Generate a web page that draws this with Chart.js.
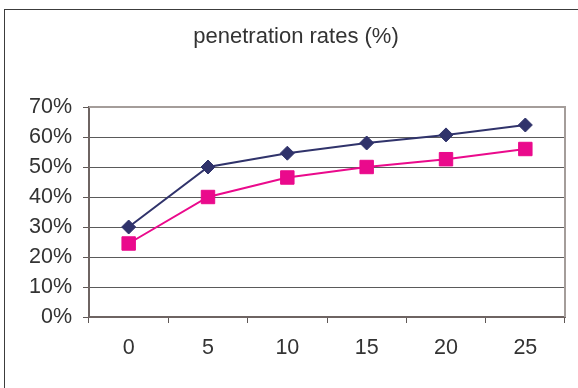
<!DOCTYPE html>
<html>
<head>
<meta charset="utf-8">
<script src="https://cdn.jsdelivr.net/npm/chart.js@4/dist/chart.umd.min.js"></script>
<style>
  html, body { margin: 0; padding: 0; background: #ffffff; overflow: hidden; }
  #wrap { position: relative; width: 578px; height: 388px; overflow: hidden; }
  #c { position: absolute; left: 0; top: 0; }
  #frame {
    position: absolute; left: 4px; top: 9px; width: 640px; height: 420px;
    border: 1px solid #3c3c3c; pointer-events: none; box-sizing: border-box;
  }
</style>
</head>
<body>
<div id="wrap">
  <canvas id="c" width="592" height="388"></canvas>
  <div id="frame"></div>
</div>
<script>
// Years on the horizontal axis
const categories = ['0', '5', '10', '15', '20', '25'];
// Penetration rates, in percent
const seriesNavy = [30, 50, 54.6, 58, 60.7, 64];
const seriesPink = [24.5, 40, 46.5, 50, 52.6, 56];
// Value axis ticks, in percent
const yTicks = [0, 10, 20, 30, 40, 50, 60, 70];

const FONT = "'Liberation Sans', Arial, sans-serif";
const TEXT = '#333333';

// Light frame along the top and right of the plot area
const plotFrame = {
  id: 'plotFrame',
  beforeDatasetsDraw(chart) {
    const a = chart.chartArea;
    const ctx = chart.ctx;
    ctx.save();
    ctx.strokeStyle = '#a49d9a';
    ctx.lineWidth = 2;
    ctx.beginPath();
    ctx.moveTo(a.left, a.top);
    ctx.lineTo(a.right, a.top);
    ctx.lineTo(a.right, a.bottom);
    ctx.stroke();
    ctx.restore();
  }
};

new Chart(document.getElementById('c'), {
  type: 'line',
  data: {
    labels: categories,
    datasets: [
      {
        data: seriesNavy,
        borderColor: '#30336b',
        backgroundColor: '#30336b',
        borderWidth: 2,
        pointStyle: 'rectRot',
        pointRadius: 7,
        pointBorderWidth: 1,
        pointBorderColor: '#30336b',
        pointBackgroundColor: '#30336b',
        tension: 0
      },
      {
        data: seriesPink,
        borderColor: '#ea0a8c',
        backgroundColor: '#ea0a8c',
        borderWidth: 2,
        pointStyle: 'rect',
        pointRadius: 9.5,
        pointBorderWidth: 1,
        pointBorderColor: '#ea0a8c',
        pointBackgroundColor: '#ea0a8c',
        tension: 0
      }
    ]
  },
  options: {
    responsive: false,
    animation: false,
    devicePixelRatio: 1,
    layout: { padding: 0 },
    plugins: {
      legend: { display: false },
      tooltip: { enabled: false },
      title: {
        display: true,
        text: 'penetration rates (%)',
        color: TEXT,
        font: { family: FONT, size: 22, weight: 'normal', lineHeight: 1.2 },
        padding: { top: 24, bottom: 56.6 }
      }
    },
    scales: {
      x: {
        type: 'category',
        offset: true,
        grid: {
          offset: true,
          drawOnChartArea: false,
          drawTicks: true,
          tickLength: 6,
          tickColor: '#5f5856'
        },
        border: { display: true, color: '#6e6462', width: 2 },
        ticks: {
          color: TEXT,
          font: { family: FONT, size: 21.5 },
          padding: 12,
          maxRotation: 0
        },
        afterFit(scale) { scale.height = 71; }
      },
      y: {
        min: 0,
        max: 70,
        afterBuildTicks(scale) { scale.ticks = yTicks.map(v => ({ value: v })); },
        grid: {
          color: '#5a5a5a',
          lineWidth: 1,
          drawTicks: true,
          tickLength: 6,
          tickColor: '#5f5856'
        },
        border: { display: true, color: '#6e6462', width: 2 },
        ticks: {
          color: TEXT,
          font: { family: FONT, size: 21.5 },
          padding: 11,
          callback: v => v + '%'
        },
        afterFit(scale) { scale.width = 89; }
      },
      // Empty right-hand margin beside the plot area
      yRight: {
        position: 'right',
        min: 0,
        max: 70,
        grid: { display: false, drawTicks: false },
        border: { display: false },
        ticks: { display: false },
        afterFit(scale) { scale.width = 27; }
      }
    }
  },
  plugins: [plotFrame]
});
</script>
</body>
</html>
